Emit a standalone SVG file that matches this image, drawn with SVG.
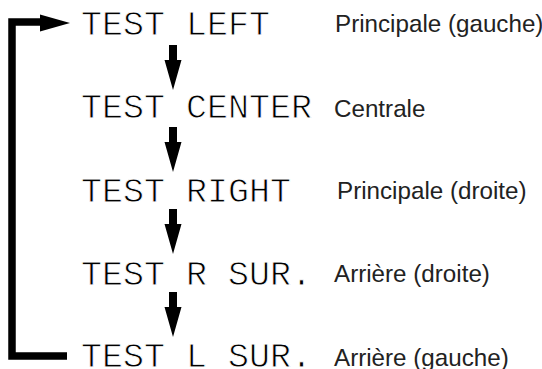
<svg xmlns="http://www.w3.org/2000/svg" width="542" height="369" viewBox="0 0 542 369">
<style>
.lcd{font-family:"Liberation Mono","DejaVu Sans Mono",monospace;font-size:35px;fill:#000;stroke:#fff;stroke-width:0.9px;}
.lbl{font-family:"Liberation Sans",Arial,sans-serif;font-size:24.2px;fill:#222;}
.ln{fill:none;stroke:#000;stroke-width:7.5;}
</style>
<defs>
<path id="down" d="M-4,0 H4 V15 H8.5 L0,45 L-8.5,15 H-4 Z" fill="#000"/>
</defs>
<rect width="542" height="369" fill="#fff"/>
<g id="connectors">
<use href="#down" x="173" y="45"/>
<use href="#down" x="173" y="127"/>
<use href="#down" x="173" y="209"/>
<use href="#down" x="173" y="292"/>
<polyline class="ln" points="67,356 12,356 12,22 42,22"/>
<path d="M40,14.5 L70,23 L40,31.5 Z" fill="#000"/>
</g>
<g id="n1"><text class="lcd" x="81" y="35">TEST LEFT</text><text class="lbl" x="335" y="32">Principale (gauche)</text></g>
<g id="n2"><text class="lcd" x="81" y="118">TEST CENTER</text><text class="lbl" x="334" y="117">Centrale</text></g>
<g id="n3"><text class="lcd" x="81" y="202">TEST RIGHT</text><text class="lbl" x="337" y="199">Principale (droite)</text></g>
<g id="n4"><text class="lcd" x="81" y="285">TEST R SUR.</text><text class="lbl" x="334" y="282">Arrière (droite)</text></g>
<g id="n5"><text class="lcd" x="81" y="367">TEST L SUR.</text><text class="lbl" x="334" y="366">Arrière (gauche)</text></g>
</svg>
